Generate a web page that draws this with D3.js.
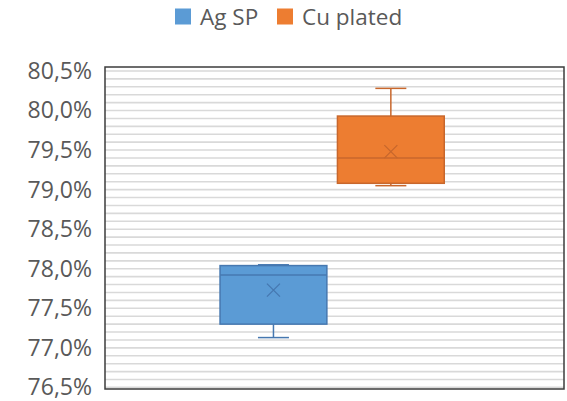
<!DOCTYPE html>
<html>
<head>
<meta charset="utf-8">
<script src="https://cdn.jsdelivr.net/npm/d3@7"></script>
<style>
  html, body { margin: 0; padding: 0; background: #ffffff; }
  svg { display: block; }
  text { font-family: "Open Sans", sans-serif; fill: #595959; }
</style>
</head>
<body>
<svg id="chart" width="567" height="401"></svg>
<script>
// ---- data ----
const series   = ["Ag SP", "Cu plated"];
const mins     = [77.13, 79.05];
const q1s      = [77.30, 79.08];
const medians  = [77.92, 79.40];
const q3s      = [78.04, 79.93];
const maxs     = [78.05, 80.28];
const means    = [77.73, 79.48];
const yTicks   = [76.5, 77.0, 77.5, 78.0, 78.5, 79.0, 79.5, 80.0, 80.5];
const gridTicks = d3.range(765, 806).map(v => v / 10);
const fills    = ["#5b9bd5", "#ed7d31"];
const strokes  = ["#4678b0", "#c8672c"];

const svg = d3.select("#chart");
const plot = { left: 105, right: 564, top: 67, bottom: 389 };

const y = d3.scaleLinear().domain([76.48, 80.55]).range([plot.bottom, plot.top]);
const x = d3.scaleBand().domain(series).range([plot.left, plot.right])
  .paddingInner(0.09).paddingOuter(1.0).align(0.49);

// gridlines
svg.append("g").selectAll("line").data(gridTicks).join("line")
  .attr("x1", plot.left).attr("x2", plot.right)
  .attr("y1", d => y(d)).attr("y2", d => y(d))
  .attr("stroke", "#d9d9d9").attr("stroke-width", 1.6);

// y axis labels
const fmt = d => d.toFixed(1).replace(".", ",") + "%";
const yAxis = d3.axisLeft(y).tickValues(yTicks).tickFormat(fmt).tickSize(0).tickPadding(13);
const ga = svg.append("g").attr("transform", `translate(${plot.left},0)`).call(yAxis);
ga.select(".domain").remove();
ga.selectAll("text").attr("font-size", 23).attr("fill", "#5f5f5f")
  .style("font-family", "'Open Sans', sans-serif");

// plot border
svg.append("rect")
  .attr("x", plot.left).attr("y", plot.top)
  .attr("width", plot.right - plot.left).attr("height", plot.bottom - plot.top)
  .attr("fill", "none").attr("stroke", "#3c3c3c").attr("stroke-width", 1.5);

// boxes
const bw = x.bandwidth();
const capW = 31;
series.forEach((s, i) => {
  const g = svg.append("g");
  const cx = x(s) + bw / 2;
  // whiskers
  g.append("line").attr("x1", cx).attr("x2", cx).attr("y1", y(maxs[i])).attr("y2", y(q3s[i]))
    .attr("stroke", strokes[i]).attr("stroke-width", 1.5);
  g.append("line").attr("x1", cx).attr("x2", cx).attr("y1", y(q1s[i])).attr("y2", y(mins[i]))
    .attr("stroke", strokes[i]).attr("stroke-width", 1.5);
  g.append("line").attr("x1", cx - capW / 2).attr("x2", cx + capW / 2)
    .attr("y1", y(maxs[i])).attr("y2", y(maxs[i]))
    .attr("stroke", strokes[i]).attr("stroke-width", 1.5);
  g.append("line").attr("x1", cx - capW / 2).attr("x2", cx + capW / 2)
    .attr("y1", y(mins[i])).attr("y2", y(mins[i]))
    .attr("stroke", strokes[i]).attr("stroke-width", 1.5);
  // box
  g.append("rect").attr("x", x(s)).attr("width", bw)
    .attr("y", y(q3s[i])).attr("height", y(q1s[i]) - y(q3s[i]))
    .attr("fill", fills[i]).attr("stroke", strokes[i]).attr("stroke-width", 1.5);
  // median
  g.append("line").attr("x1", x(s)).attr("x2", x(s) + bw)
    .attr("y1", y(medians[i])).attr("y2", y(medians[i]))
    .attr("stroke", strokes[i]).attr("stroke-width", 1.5);
  // mean marker X
  const my = y(means[i]), r = 6.5;
  g.append("path")
    .attr("d", `M${cx - r},${my - r}L${cx + r},${my + r}M${cx - r},${my + r}L${cx + r},${my - r}`)
    .attr("stroke", strokes[i]).attr("stroke-width", 1.3).attr("fill", "none");
});

// legend
const legendX = d3.scaleOrdinal().domain(series).range([175, 277]);
const lg = svg.append("g");
series.forEach((s, i) => {
  lg.append("rect").attr("x", legendX(s)).attr("y", 8.5).attr("width", 16).attr("height", 16)
    .attr("fill", fills[i]);
  lg.append("text").attr("x", legendX(s) + 25).attr("y", 25)
    .attr("font-size", 22.5).attr("fill", "#5f5f5f").text(s);
});
</script>
</body>
</html>
